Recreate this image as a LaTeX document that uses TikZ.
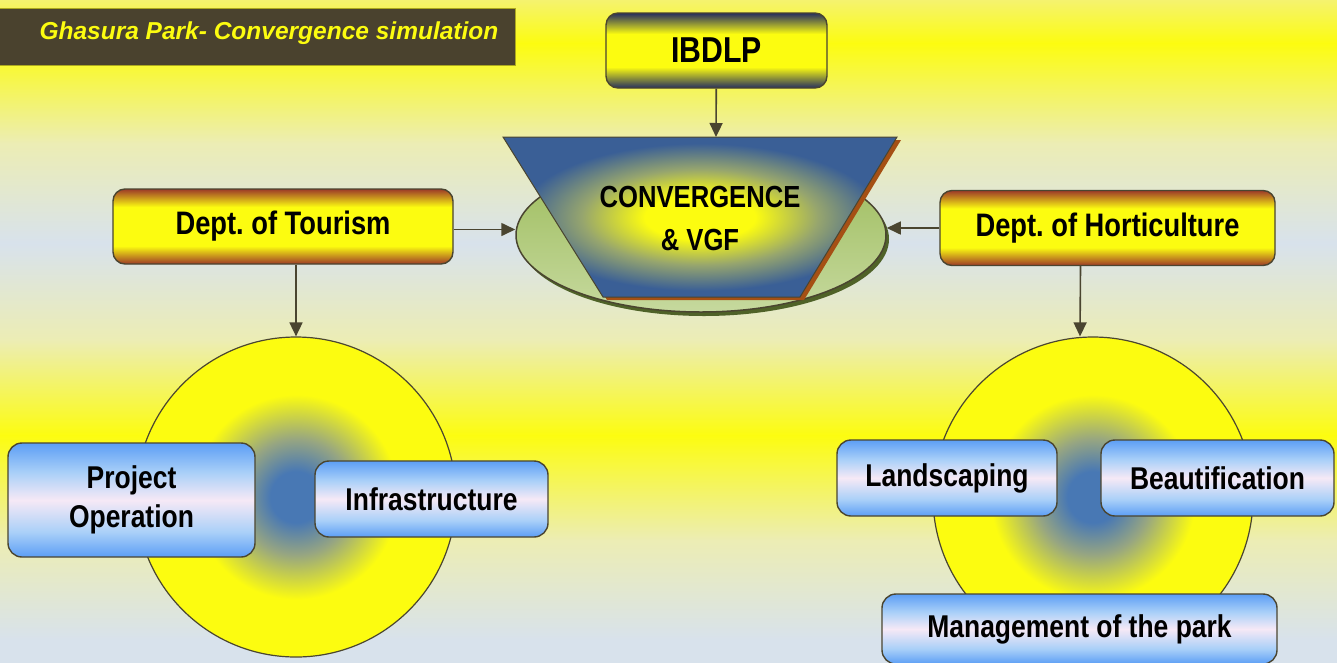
\documentclass[tikz,border=0pt]{standalone}
\usepackage{fontspec}
\setmainfont{Liberation Sans}
\newfontfamily\narrowfont{Liberation Sans}[FakeStretch=0.84]
\frenchspacing
\usepackage{tikz}
\usetikzlibrary{
    positioning,      % Relative positioning
    shapes.geometric, % Ellipse
    arrows.meta,      % Modern arrow tips
    calc              % Coordinate calculations
}
\definecolor{ParkOlive}{RGB}{74, 66, 46}
\definecolor{ParkLine}{RGB}{74, 69, 48}
\definecolor{ParkYellow}{RGB}{252, 252, 16}
\definecolor{BgTop}{RGB}{245, 243, 110}
\definecolor{BgPale}{RGB}{236, 237, 180}
\definecolor{BgBlue}{RGB}{216, 226, 236}
\definecolor{DeptBrown}{RGB}{156, 58, 40}
\definecolor{IbdlpNavy}{RGB}{37, 46, 94}
\definecolor{TrapBlue}{RGB}{58, 95, 150}
\definecolor{TrapMid}{RGB}{150, 165, 110}
\definecolor{TrapShadow}{RGB}{165, 80, 20}
\definecolor{DiscGreen}{RGB}{155, 187, 89}
\definecolor{DiscLight}{RGB}{198, 217, 158}
\definecolor{DiscShadow}{RGB}{79, 98, 40}
\definecolor{CoreBlue}{RGB}{72, 120, 180}
\definecolor{CoreMid}{RGB}{150, 165, 130}
\definecolor{BoxBlue}{RGB}{92, 158, 245}
\definecolor{BoxLight}{RGB}{170, 208, 248}
\definecolor{BoxPink}{RGB}{246, 233, 246}

% Shadings for the boxes and discs
\pgfdeclareverticalshading{deptband}{100bp}{color(0bp)=(DeptBrown); color(25bp)=(DeptBrown); color(37bp)=(ParkYellow); color(63bp)=(ParkYellow); color(75bp)=(DeptBrown); color(100bp)=(DeptBrown)}
\pgfdeclareverticalshading{navyband}{100bp}{color(0bp)=(IbdlpNavy); color(25bp)=(IbdlpNavy); color(39bp)=(ParkYellow); color(61bp)=(ParkYellow); color(75bp)=(IbdlpNavy); color(100bp)=(IbdlpNavy)}
\pgfdeclareverticalshading{boxband}{100bp}{color(0bp)=(BoxBlue); color(25bp)=(BoxBlue); color(36bp)=(BoxLight); color(50bp)=(BoxPink); color(62bp)=(BoxLight); color(75bp)=(BoxBlue); color(100bp)=(BoxBlue)}
\pgfdeclareradialshading{corecircle}{\pgfpoint{0bp}{0bp}}{color(0bp)=(CoreBlue); color(4bp)=(CoreBlue); color(9bp)=(CoreMid); color(16bp)=(ParkYellow); color(25bp)=(ParkYellow); color(50bp)=(ParkYellow)}
\pgfdeclareradialshading{convglow}{\pgfpoint{0bp}{0bp}}{color(0bp)=(ParkYellow); color(7bp)=(ParkYellow); color(15bp)=(TrapMid); color(23bp)=(TrapBlue); color(50bp)=(TrapBlue)}

\tikzset{
    arr/.style={-{Triangle[length=14pt,width=13pt]}, ParkLine, line width=1.6pt},
    deptbox/.style={draw=ParkLine, line width=1.4pt, rounded corners=12pt, shade, shading=deptband,
        minimum height=75pt, inner sep=0pt, font=\narrowfont\bfseries\fontsize{32.5}{38}\selectfont},
    topbox/.style={draw=ParkLine, line width=1.4pt, rounded corners=12pt, shade, shading=navyband,
        minimum width=221pt, minimum height=75pt, inner sep=0pt, font=\narrowfont\bfseries\fontsize{36}{40}\selectfont},
    bluebox/.style={draw=ParkLine, line width=1.4pt, rounded corners=14pt, shade, shading=boxband,
        minimum height=76pt, inner sep=0pt, align=center, font=\narrowfont\bfseries\fontsize{31.5}{39}\selectfont},
    ring/.style={circle, draw=ParkLine, line width=1.2pt, shade, shading=corecircle, minimum size=320pt, inner sep=0pt}
}

\begin{document}
\begin{tikzpicture}[x=1pt, y=-1pt]
    \useasboundingbox (0,0) rectangle (1337,662);
    \clip (0,0) rectangle (1337,662);

    % Background bands
    \foreach \ya/\yb/\ca/\cb in {0/43/BgTop/ParkYellow, 43/143/ParkYellow/BgPale, 143/243/BgPale/BgBlue,
        243/340/BgBlue/BgPale, 340/435/BgPale/ParkYellow, 435/540/ParkYellow/BgPale,
        540/640/BgPale/BgBlue, 640/662/BgBlue/BgBlue}
        \shade[top color=\ca, bottom color=\cb] (-1,\ya) rectangle (1338,\yb+0.5);

    % Title banner
    \fill[ParkOlive] (0,8) rectangle (515,65);
    \draw[ParkYellow!55!ParkOlive, line width=1pt] (0,8) -- (515,8) -- (515,65) -- (0,65);
    \node[anchor=west, text=ParkYellow, font=\bfseries\itshape\fontsize{24.5}{28}\selectfont] (title) at (36,33) {Ghasura Park- Convergence simulation};

    % Convergence disc and funnel
    \fill[DiscShadow] (704,239) ellipse (185 and 77);
    \node[ellipse, draw=ParkLine, line width=1.5pt, shade, top color=DiscGreen, bottom color=DiscLight,
        minimum width=370pt, minimum height=154pt, inner sep=0pt] (disc) at (701,235) {};
    \fill[TrapShadow] (507,140) -- (901,140) -- (804,300) -- (607,300) -- cycle;
    \shade[shading=convglow, draw=ParkLine, line width=1pt] (503,137) -- (897,137) -- (800,297) -- (603,297) -- cycle;
    \coordinate (convtop) at (716,137);
    \node[align=center, font=\narrowfont\bfseries\fontsize{30.5}{43}\selectfont] (conv) at (700,218) {CONVERGENCE\\\& VGF};

    % Top and department boxes
    \node[topbox] (ibdlp) at (716.5,50.5) {IBDLP};
    \node[deptbox, minimum width=340pt] (tourism) at (283,226.5) {Dept. of Tourism};
    \node[deptbox, minimum width=335pt] (horti) at (1107.5,228) {Dept. of Horticulture};

    % Tourism ring
    \node[ring] (ringL) at (296,497) {};
    \node[bluebox, minimum width=247pt, minimum height=114pt] (projop) at (131.5,500) {Project\\Operation};
    \node[bluebox, minimum width=233pt] (infra) at (431.5,499) {Infrastructure};

    % Horticulture ring
    \node[ring] (ringR) at (1093,497) {};
    \node[bluebox, minimum width=220pt] (landsc) at (947,478) {Landscaping};
    \node[bluebox, minimum width=233pt] (beaut) at (1217.5,478) {Beautification};
    \node[bluebox, minimum width=395pt, minimum height=70pt] (manage) at (1079.5,629) {Management of the park};

    % Connectors
    \draw[arr] (ibdlp) -- (convtop);
    \draw[arr] ([yshift=-3pt]tourism.east) -- ([yshift=-3pt]tourism.east -| disc.west);
    \draw[arr] (horti.west) -- (horti.west -| disc.east);
    \draw[arr] (tourism.south -| ringL.north) -- (ringL.north);
    \draw[arr] ([xshift=-27pt]horti.south) -- ([xshift=-13pt]ringR.north);
\end{tikzpicture}
\end{document}
